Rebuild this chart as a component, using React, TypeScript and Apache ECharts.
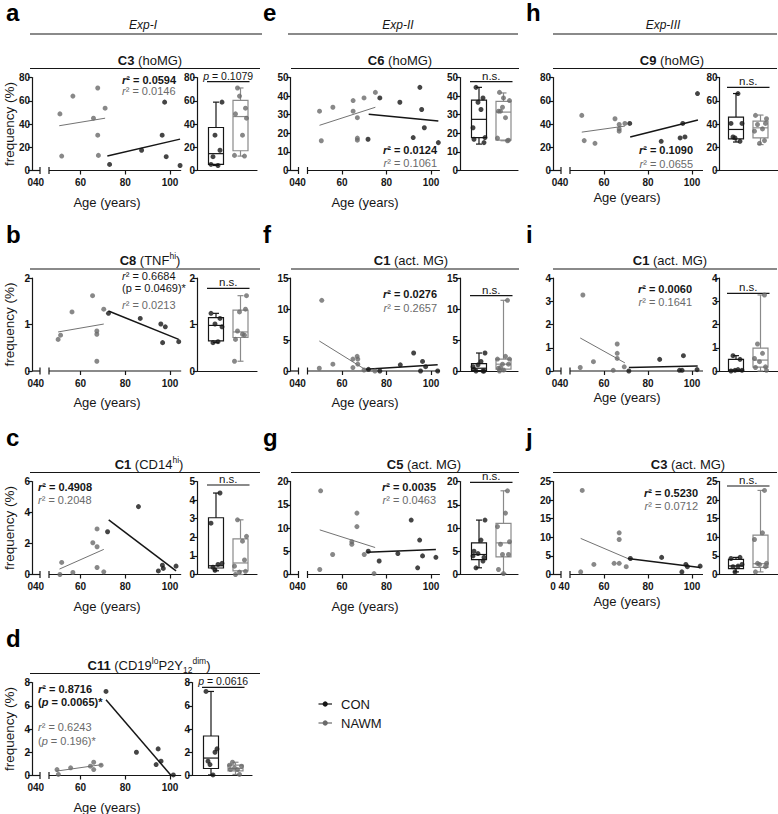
import React, { useEffect, useRef } from "react";
import * as echarts from "echarts";

// ---------------- data ----------------
// a  C3 (hoMG), Exp-I
const aConAge = [73, 87.3, 96.5, 97.6, 98.3, 104.5];
const aConVal = [5.2, 17.4, 30.4, 58.8, 11.9, 4.3];
const aNawmAge = [50.8, 51.6, 56.6, 65.8, 67.7, 67.7, 68, 71];
const aNawmVal = [48.7, 12.4, 64, 45, 71, 30.4, 13, 53.6];
const aConFit = [[72, 12.5], [104.5, 27]];
const aNawmFit = [[50.5, 38.5], [71, 45]];
const aConBox = [4.3, 5.2, 14.5, 37, 58.8];
const aNawmBox = [12.4, 17, 46.4, 60.3, 71];

// b  C8 (TNFhi)
const bConAge = [72.5, 86.7, 95.9, 97.9, 96.7, 103.9];
const bConVal = [1.24, 1.13, 1.01, 0.95, 0.61, 0.63];
const bNawmAge = [50, 51.1, 56.2, 65.4, 67.3, 67.3, 67.3, 70.4];
const bNawmVal = [0.68, 0.77, 1.27, 1.62, 0.86, 0.79, 0.21, 1.33];
const bConFit = [[72.5, 1.29], [103.9, 0.68]];
const bNawmFit = [[50, 0.84], [70.4, 1.01]];
const bConBox = [0.61, 0.65, 0.98, 1.15, 1.24];
const bNawmBox = [0.21, 0.72, 0.84, 1.31, 1.62];

// c  C1 (CD14hi)
const cConAge = [72.1, 85.9, 94.8, 96.6, 97, 102.7];
const cConVal = [2.76, 4.38, 0.23, 0.6, 0.39, 0.54];
const cNawmAge = [50.8, 51.6, 56.6, 65.5, 67.4, 67.4, 67.4, 70.4];
const cNawmVal = [0, 0.78, 0.13, 2.05, 2.94, 1.79, 0.45, 0.17];
const cConFit = [[72.6, 3.52], [102.7, 0.23]];
const cNawmFit = [[50.6, 0.35], [70.4, 1.62]];
const cConBox = [0.2, 0.35, 0.47, 3.05, 4.38];
const cNawmBox = [0, 0.2, 0.62, 1.92, 2.94];

// d  C11 (CD19lo P2Y12dim)
const dConAge = [71.4, 85, 93.8, 94.7, 96, 101.5];
const dConVal = [7.23, 2.0, 0.94, 2.29, 1.23, 0.05];
const dNawmAge = [49.5, 50.1, 55.6, 64.4, 65.9, 65.9, 69.2];
const dNawmVal = [0.51, 0.09, 0.66, 0.8, 1.14, 0.51, 0.89];
const dConFit = [[71.4, 6.52], [100.5, 0]];
const dNawmFit = [[49, 0.37], [69.7, 0.94]];
const dConBox = [0.05, 0.6, 1.5, 3.4, 7.23];
const dNawmBox = [0.09, 0.4, 0.6, 0.9, 1.14];

// e  C6 (hoMG), Exp-II
const eConAge = [71.7, 77, 86, 92, 95, 95.8, 97, 103.3];
const eConVal = [16.8, 39, 36.7, 17.7, 44.7, 32.8, 23, 15];
const eNawmAge = [49.9, 50.7, 55.9, 65, 65, 66.9, 66.9, 66.9, 69.9, 75];
const eNawmVal = [31.9, 16, 34, 37.6, 31.9, 28.4, 17.4, 16.3, 39, 42];
const eConFit = [[72, 30.2], [103.3, 26.6]];
const eNawmFit = [[49.9, 24.3], [75, 34]];
const eConBox = [14.2, 17.7, 27.5, 37.8, 44.7];
const eNawmBox = [16, 16.3, 31.4, 37.2, 41.7];

// f  C1 (act. MG)
const fConAge = [71.9, 77, 86.2, 92.2, 95.3, 96.2, 97.6, 103];
const fConVal = [0.27, 0, 1.0, 2.9, 0, 1.54, 0.7, 0];
const fNawmAge = [49.8, 50.9, 55.9, 64.9, 64.9, 66.8, 67.1, 67.1, 69.9, 74.8];
const fNawmVal = [0.44, 11.4, 1.1, 1.92, 0.55, 2.36, 1.92, 1.1, 0.16, 0];
const fConFit = [[70.6, 0.3], [103, 1.0]];
const fNawmFit = [[49.8, 4.84], [70.6, 0.2]];
const fConBox = [0, 0.05, 0.45, 1.2, 2.9];
const fNawmBox = [0, 0.3, 1.1, 1.9, 11.4];

// g  C5 (act. MG)
const gConAge = [71.8, 76.7, 85.1, 91.1, 94, 94.9, 96.2, 102.2];
const gConVal = [5.0, 2.9, 4.5, 11.7, 1.44, 7.4, 4.0, 3.7];
const gNawmAge = [50, 50.4, 55.8, 64.4, 64.4, 66.7, 66.7, 70, 74.4];
const gNawmVal = [1.08, 18, 4.3, 7.05, 6.5, 13.2, 10.3, 4.3, 0.2];
const gConFit = [[71.1, 4.8], [102.2, 5.4]];
const gNawmFit = [[50, 9.6], [74.9, 5.8]];
const gConBox = [1.44, 3.2, 4.3, 6.8, 11.7];
const gNawmBox = [0.2, 3.8, 6.8, 11, 18];

// h  C9 (hoMG), Exp-III
const hConAge = [71.7, 86, 94.6, 95.8, 96.8, 102.5];
const hConVal = [40.5, 25.1, 28, 40.5, 28.9, 66.2];
const hNawmAge = [49.9, 51, 55.9, 65, 66.9, 66.9, 66.9, 69.5];
const hNawmVal = [47.4, 25.7, 23.4, 44.5, 39.6, 35.8, 33.8, 40.5];
const hConFit = [[71.9, 28.9], [102.7, 43.4]];
const hNawmFit = [[49.9, 33], [69.5, 38.2]];
const hConBox = [24.5, 27.2, 35.3, 46, 66.2];
const hNawmBox = [22.3, 28, 36.7, 42.5, 47.7];

// i  C1 (act. MG)
const iConAge = [71.3, 85.3, 94.3, 95.5, 96.1, 102.3];
const iConVal = [0, 0.5, 0.03, 0.03, 0.66, 0.06];
const iNawmAge = [49.2, 50.4, 55.2, 64.2, 66, 66, 66, 69.2];
const iNawmVal = [0.15, 3.27, 0.4, 0.03, 1.16, 0.76, 0.54, 0.18];
const iConFit = [[71.3, 0.15], [102.6, 0.22]];
const iNawmFit = [[49.2, 1.42], [69.5, 0.35]];
const iConBox = [0, 0, 0.04, 0.5, 0.66];
const iNawmBox = [0, 0.17, 0.47, 0.98, 3.27];

// j  C3 (act. MG)
const jConAge = [72, 86.2, 95.4, 97.2, 97.9, 103.7];
const jConVal = [4.3, 4.6, 0.7, 2.7, 2.1, 2.25];
const jNawmAge = [49.4, 50.1, 55.4, 64.6, 66.9, 66.9, 66.9, 70.1];
const jNawmVal = [0.7, 22.6, 2.7, 3.0, 3.0, 11.2, 9.4, 2.1];
const jConFit = [[70.8, 4.3], [103.7, 1.9]];
const jNawmFit = [[49.4, 9.7], [70.8, 4.3]];
const jConBox = [0.7, 1.6, 2.3, 4.05, 4.6];
const jNawmBox = [0.7, 1.9, 2.9, 10.6, 22.6];

const xTickValues = [60, 80, 100];
const xLabelValues = [40, 60, 80, 100];
const legendNames = ["CON", "NAWM"];
const expHeaders = ["Exp-I", "Exp-II", "Exp-III"];

// ---------------- styling / layout ----------------
const FONT = '"Liberation Sans", Arial, Helvetica, sans-serif';
const BLACK = "#161616";
const GRAY = "#6a6a6a";
const GRAY_LINE = "#737373";
const GRAY_BOX = "#8a8a8a";
const GRAY_TEXT = "#6a6a6a";

const ROW_OFF = [0, 200.5, 404, 605];
const PLOT_TOP = 77.5;
const PLOT_H = 93;

const COLS = [
  { yx: 32, x60: 80.5, x100: 170, xMax: 105, bx: 197, c1: 19, c2: 43.5, bw: 60, lineL: 30, lineR: 260, ageX: 107, ageY: 202, letterX: 6, expX: 143, expL: 30, expR: 262 },
  { yx: 290.5, x60: 342, x100: 431, xMax: 104, bx: 460, c1: 19, c2: 43.5, bw: 58, lineL: 291, lineR: 519, ageX: 365, ageY: 202, letterX: 263, expX: 398, expL: 288, expR: 518 },
  { yx: 553, x60: 604, x100: 692, xMax: 105, bx: 719.5, c1: 16.5, c2: 41, bw: 58, lineL: 553, lineR: 777, ageX: 627, ageY: 197, letterX: 526, expX: 663, expL: 553, expR: 777 },
];

const PANELS: any[] = [
  { letter: "a", row: 0, col: 0, title: "{b|C3} (hoMG)", titleX: 150, yMax: 80, yInt: 20, bMax: 80, bInt: 20,
    con: [aConAge, aConVal, aConFit, aConBox], nawm: [aNawmAge, aNawmVal, aNawmFit, aNawmBox], zero: "040",
    sAlign: "left", sX: 122, sY: [80, 91], stats: ["{rk|r}{kb|² = 0.0594}", "{rg|r}{g|² = 0.0146}"],
    hdr: "{pi|p}{pn| = 0.1079}", hdrY: 81.7, yName: true },
  { letter: "b", row: 1, col: 0, title: "{b|C8} (TNF{sup|hi})", titleX: 150, yMax: 2, yInt: 1, bMax: 2, bInt: 1,
    con: [bConAge, bConVal, bConFit, bConBox], nawm: [bNawmAge, bNawmVal, bNawmFit, bNawmBox], zero: "040",
    sAlign: "left", sX: 122, sY: [75.5, 87, 104.5], stats: ["{rn|r}{kn|² = 0.6684}", "{kn|(p = 0.0469)*}", "{rg|r}{g|² = 0.0213}"],
    hdr: "{ns|n.s.}", hdrY: 87.8, yName: true },
  { letter: "c", row: 2, col: 0, title: "{b|C1} (CD14{sup|hi})", titleX: 149, yMax: 6, yInt: 2, bMax: 5, bInt: 1,
    con: [cConAge, cConVal, cConFit, cConBox], nawm: [cNawmAge, cNawmVal, cNawmFit, cNawmBox], zero: "040",
    sAlign: "left", sX: 38, sY: [82.5, 96], stats: ["{rk|r}{kb|² = 0.4908}", "{rg|r}{g|² = 0.2048}"],
    hdr: "{ns|n.s.}", hdrY: 81, yName: true },
  { letter: "d", row: 3, col: 0, title: "{b|C11} (CD19{sup|lo}P2Y{sub|12}{sup|dim})", titleX: 149, yMax: 8, yInt: 2, bMax: 8, bInt: 2,
    con: [dConAge, dConVal, dConFit, dConBox], nawm: [dNawmAge, dNawmVal, dNawmFit, dNawmBox], zero: "040", bx: 192,
    sAlign: "left", sX: 38, sY: [83.5, 97, 122, 135.5],
    stats: ["{rk|r}{kb|² = 0.8716}", "{kb|(}{pk|p}{kb| = 0.0065)*}", "{rg|r}{g|² = 0.6243}", "{g|(}{pg|p}{g| = 0.196)*}"],
    hdr: "{pi|p}{pn| = 0.0616}", hdrY: 82.3, yName: true },
  { letter: "e", row: 0, col: 1, title: "{b|C6} (hoMG)", titleX: 400, yMax: 50, yInt: 10, bMax: 50, bInt: 10,
    con: [eConAge, eConVal, eConFit, eConBox], nawm: [eNawmAge, eNawmVal, eNawmFit, eNawmBox], zero: "040",
    sAlign: "right", sX: 437, sY: [150, 163], stats: ["{rk|r}{kb|² = 0.0124}", "{rg|r}{g|² = 0.1061}"],
    hdr: "{ns|n.s.}", hdrY: 81.7 },
  { letter: "f", row: 1, col: 1, title: "{b|C1} (act. MG)", titleX: 411, yMax: 15, yInt: 5, bMax: 15, bInt: 5,
    con: [fConAge, fConVal, fConFit, fConBox], nawm: [fNawmAge, fNawmVal, fNawmFit, fNawmBox], zero: "040",
    sAlign: "right", sX: 437, sY: [93.5, 107], stats: ["{rk|r}{kb|² = 0.0276}", "{rg|r}{g|² = 0.2657}"],
    hdr: "{ns|n.s.}", hdrY: 95.2 },
  { letter: "g", row: 2, col: 1, title: "{b|C5} (act. MG)", titleX: 424, yMax: 20, yInt: 5, bMax: 20, bInt: 5,
    con: [gConAge, gConVal, gConFit, gConBox], nawm: [gNawmAge, gNawmVal, gNawmFit, gNawmBox], zero: "040",
    sAlign: "right", sX: 436, sY: [82.5, 95.5], stats: ["{rk|r}{kb|² = 0.0035}", "{rg|r}{g|² = 0.0463}"],
    hdr: "{ns|n.s.}", hdrY: 78.3 },
  { letter: "h", row: 0, col: 2, title: "{b|C9} (hoMG)", titleX: 672, yMax: 80, yInt: 20, bMax: 80, bInt: 20,
    con: [hConAge, hConVal, hConFit, hConBox], nawm: [hNawmAge, hNawmVal, hNawmFit, hNawmBox], zero: "040",
    sAlign: "right", sX: 693, sY: [149.5, 164], stats: ["{rk|r}{kb|² = 0.1090}", "{rg|r}{g|² = 0.0655}"],
    hdr: "{ns|n.s.}", hdrY: 87.3 },
  { letter: "i", row: 1, col: 2, title: "{b|C1} (act. MG)", titleX: 670, yMax: 4, yInt: 1, bMax: 4, bInt: 1,
    con: [iConAge, iConVal, iConFit, iConBox], nawm: [iNawmAge, iNawmVal, iNawmFit, iNawmBox], zero: "040",
    sAlign: "right", sX: 692, sY: [88, 101], stats: ["{rk|r}{kb|² = 0.0060}", "{rg|r}{g|² = 0.1641}"],
    hdr: "{ns|n.s.}", hdrY: 92.8 },
  { letter: "j", row: 2, col: 2, title: "{b|C3} (act. MG)", titleX: 688, yMax: 25, yInt: 5, bMax: 25, bInt: 5,
    con: [jConAge, jConVal, jConFit, jConBox], nawm: [jNawmAge, jNawmVal, jNawmFit, jNawmBox], zero: "0 40",
    sAlign: "right", sX: 698, sY: [89, 101.5], stats: ["{rk|r}{kb|² = 0.5230}", "{rg|r}{g|² = 0.0712}"],
    hdr: "{ns|n.s.}", hdrY: 82 },
];

const RICH: any = {
  b: { fontWeight: "bold", fontSize: 13, fontFamily: FONT, fill: BLACK, lineHeight: 18 },
  sup: { fontSize: 8.5, fontFamily: FONT, fill: BLACK, lineHeight: 9, verticalAlign: "top" },
  sub: { fontSize: 8.5, fontFamily: FONT, fill: BLACK, lineHeight: 9, verticalAlign: "bottom" },
  rk: { fontStyle: "italic", fontWeight: "bold", fontSize: 11, fontFamily: FONT, fill: BLACK },
  kb: { fontWeight: "bold", fontSize: 11, fontFamily: FONT, fill: BLACK },
  pk: { fontStyle: "italic", fontWeight: "bold", fontSize: 11, fontFamily: FONT, fill: BLACK },
  rn: { fontStyle: "italic", fontSize: 11, fontFamily: FONT, fill: BLACK },
  kn: { fontSize: 11, fontFamily: FONT, fill: BLACK },
  rg: { fontStyle: "italic", fontSize: 11, fontFamily: FONT, fill: GRAY_TEXT },
  g: { fontSize: 11, fontFamily: FONT, fill: GRAY_TEXT },
  pg: { fontStyle: "italic", fontSize: 11, fontFamily: FONT, fill: GRAY_TEXT },
  pi: { fontStyle: "italic", fontSize: 10.5, fontFamily: FONT, fill: BLACK },
  pn: { fontSize: 10.5, fontFamily: FONT, fill: BLACK },
  ns: { fontSize: 11.5, fontFamily: FONT, fill: BLACK },
};

const JIT = [-5, 4, -1, 6, -3, 2, -6, 5, 0, -4, 3];

function boxRender(params: any, api: any) {
  const x = api.value(0);
  const v = [1, 2, 3, 4, 5].map((k) => api.value(k));
  const p = v.map((val) => api.coord([x, val]));
  const cx = p[0][0];
  const stroke = params.dataIndex === 0 ? BLACK : GRAY_BOX;
  const st = { stroke, lineWidth: 1.2 };
  const hw = 7.5;
  const cap = 3;
  return {
    type: "group",
    children: [
      { type: "line", shape: { x1: cx, y1: p[4][1], x2: cx, y2: p[3][1] }, style: st },
      { type: "line", shape: { x1: cx, y1: p[1][1], x2: cx, y2: p[0][1] }, style: st },
      { type: "line", shape: { x1: cx - cap, y1: p[4][1], x2: cx + cap, y2: p[4][1] }, style: st },
      { type: "line", shape: { x1: cx - cap, y1: p[0][1], x2: cx + cap, y2: p[0][1] }, style: st },
      { type: "rect", shape: { x: cx - hw, y: p[3][1], width: hw * 2, height: Math.max(0.5, p[1][1] - p[3][1]) }, style: { ...st, fill: "rgba(255,255,255,0)" } },
      { type: "line", shape: { x1: cx - hw, y1: p[2][1], x2: cx + hw, y2: p[2][1] }, style: st },
    ],
  };
}

function txt(x: number, y: number, text: string, o: any = {}) {
  return {
    type: "text",
    x,
    y,
    rotation: o.rotation || 0,
    silent: true,
    style: {
      text,
      fontFamily: FONT,
      fontSize: o.fontSize || 11,
      fontWeight: o.fontWeight || "normal",
      fontStyle: o.fontStyle || "normal",
      fill: o.fill || BLACK,
      align: o.align || "center",
      verticalAlign: "middle",
      rich: RICH,
    },
  };
}

function hline(x1: number, x2: number, y: number, color = BLACK, w = 1.2) {
  return { type: "line", silent: true, shape: { x1, y1: y, x2, y2: y }, style: { stroke: color, lineWidth: w } };
}

function buildOption() {
  const grid: any[] = [];
  const xAxis: any[] = [];
  const yAxis: any[] = [];
  const series: any[] = [];
  const graphic: any[] = [];
  const axisLineStyle = { color: BLACK, width: 1.2 };
  const tickLabel = { color: BLACK, fontSize: 10, fontWeight: "bold", fontFamily: FONT };

  // Exp headers
  COLS.forEach((col, k) => {
    graphic.push(txt(col.expX, 25, expHeaders[k], { fontSize: 12, fontStyle: "italic" }));
    graphic.push(hline(col.expL, col.expR, 34));
  });

  PANELS.forEach((p) => {
    const col = COLS[p.col];
    const off = ROW_OFF[p.row];
    const top = PLOT_TOP + off;
    const pxyr = (col.x100 - col.x60) / 40;
    const xMin = 60 - (col.x60 - col.yx) / pxyr;
    const xMax = col.xMax;

    // ---- scatter grid ----
    const sgi = grid.length;
    grid.push({ left: col.yx, top, width: (xMax - xMin) * pxyr, height: PLOT_H });
    xAxis.push({
      gridIndex: sgi, type: "value", min: xMin, max: xMax,
      splitLine: { show: false }, axisLine: { show: false },
      axisTick: { show: true, customValues: xTickValues, length: 4, lineStyle: axisLineStyle },
      axisLabel: { customValues: xLabelValues, margin: 7, formatter: (v: number) => (v === 40 ? p.zero : String(v)), ...tickLabel },
    });
    yAxis.push({
      gridIndex: sgi, type: "value", min: 0, max: p.yMax, interval: p.yInt,
      splitLine: { show: false },
      axisLine: { show: true, onZero: false, lineStyle: axisLineStyle },
      axisTick: { show: true, length: 4, lineStyle: axisLineStyle },
      axisLabel: { margin: 2, ...tickLabel },
    });
    const b1 = xMin + 8 / pxyr;
    const b2 = xMin + 17 / pxyr;
    const brk = { symbol: "rect", symbolSize: [1.2, 7] };
    const segBase = {
      type: "line", xAxisIndex: sgi, yAxisIndex: sgi, silent: true, z: 1, clip: false,
      lineStyle: { color: BLACK, width: 1.2 }, itemStyle: { color: BLACK }, showSymbol: true,
    };
    series.push({ ...segBase, data: [{ value: [xMin, 0], symbol: "none" }, { value: [b1, 0], ...brk }] });
    series.push({ ...segBase, data: [{ value: [b2, 0], ...brk }, { value: [xMax, 0], symbol: "none" }] });

    const groups = [
      { d: p.nawm, color: GRAY, lineColor: GRAY_LINE, lw: 1.0, name: legendNames[1] },
      { d: p.con, color: BLACK, lineColor: BLACK, lw: 1.5, name: legendNames[0] },
    ];
    groups.forEach((gr) => {
      series.push({
        type: "line", name: gr.name, xAxisIndex: sgi, yAxisIndex: sgi, data: gr.d[2], symbol: "none",
        lineStyle: { color: gr.lineColor, width: gr.lw }, silent: true, z: 2, clip: false,
      });
    });
    groups.forEach((gr) => {
      series.push({
        type: "scatter", name: gr.name, xAxisIndex: sgi, yAxisIndex: sgi,
        data: gr.d[0].map((a: number, i: number) => [a, gr.d[1][i]]),
        symbolSize: 5, itemStyle: { color: gr.color }, z: 3, clip: false, silent: true,
      });
    });

    // ---- box grid ----
    const bgi = grid.length;
    const bx = p.bx ?? col.bx;
    const s = col.c2 - col.c1;
    const bMin = 1 - col.c1 / s;
    const bMax = bMin + col.bw / s;
    grid.push({ left: bx, top, width: col.bw, height: PLOT_H });
    xAxis.push({
      gridIndex: bgi, type: "value", min: bMin, max: bMax,
      axisLine: { show: true, onZero: false, lineStyle: axisLineStyle },
      axisTick: { show: false }, axisLabel: { show: false }, splitLine: { show: false },
    });
    yAxis.push({
      gridIndex: bgi, type: "value", min: 0, max: p.bMax, interval: p.bInt,
      splitLine: { show: false },
      axisLine: { show: true, onZero: false, lineStyle: axisLineStyle },
      axisTick: { show: true, length: 4, lineStyle: axisLineStyle },
      axisLabel: { margin: 2, ...tickLabel },
    });
    series.push({
      type: "custom", xAxisIndex: bgi, yAxisIndex: bgi, silent: true, z: 2, clip: false,
      data: [[1, ...p.con[3]], [2, ...p.nawm[3]]],
      renderItem: boxRender,
    });
    [
      { d: p.con, pos: 1, color: BLACK },
      { d: p.nawm, pos: 2, color: GRAY },
    ].forEach((gr) => {
      series.push({
        type: "scatter", xAxisIndex: bgi, yAxisIndex: bgi, silent: true, z: 4, clip: false,
        data: gr.d[1].map((v: number, i: number) => [gr.pos + JIT[i % JIT.length] / s, v]),
        symbolSize: 5, itemStyle: { color: gr.color },
      });
    });

    // ---- texts ----
    const letterY = p.row === 0 ? 12 : off + 33.5;
    graphic.push(txt(col.letterX, letterY, p.letter, { fontSize: 24, fontWeight: "bold", align: "left", fill: "#000" }));
    graphic.push(txt(p.titleX, 60 + off, p.title, { fontSize: 13 }));
    graphic.push(hline(col.lineL, col.lineR, 68.5 + off));
    graphic.push(txt(col.ageX, col.ageY + off, "Age (years)", { fontSize: 13 }));
    if (p.yName) {
      graphic.push(txt(9, off + 124, "frequency (%)", { fontSize: 13.5, rotation: Math.PI / 2 }));
    }
    p.stats.forEach((line: string, k: number) => {
      graphic.push(txt(p.sX, p.sY[k] + off, line, { align: p.sAlign }));
    });
    const hx1 = bx + col.c1 - 9;
    const hx2 = bx + col.c2 + 9;
    graphic.push(txt((hx1 + hx2) / 2, p.hdrY + off - 6, p.hdr, {}));
    graphic.push(hline(hx1, hx2, p.hdrY + off));
  });

  // legend
  const legendRows = [
    { y: 704, color: BLACK, name: legendNames[0] },
    { y: 723, color: GRAY, name: legendNames[1] },
  ];
  legendRows.forEach((r) => {
    graphic.push({ type: "line", silent: true, shape: { x1: 318.5, y1: r.y, x2: 332, y2: r.y }, style: { stroke: r.color, lineWidth: 1.2 } });
    graphic.push({ type: "circle", silent: true, shape: { cx: 325.2, cy: r.y, r: 2.6 }, style: { fill: r.color } });
    graphic.push(txt(341, r.y, r.name, { fontSize: 13, align: "left" }));
  });

  return { animation: false, backgroundColor: "#ffffff", grid, xAxis, yAxis, series, graphic };
}

export default function App() {
  const ref = useRef<HTMLDivElement>(null);
  useEffect(() => {
    const chart = echarts.init(ref.current as HTMLDivElement, null, { renderer: "svg" });
    chart.setOption(buildOption() as any);
    return () => chart.dispose();
  }, []);
  return (
    <div
      ref={ref}
      style={{ position: "absolute", left: 0, top: 0, width: 778, height: 814, background: "#fff" }}
    />
  );
}
